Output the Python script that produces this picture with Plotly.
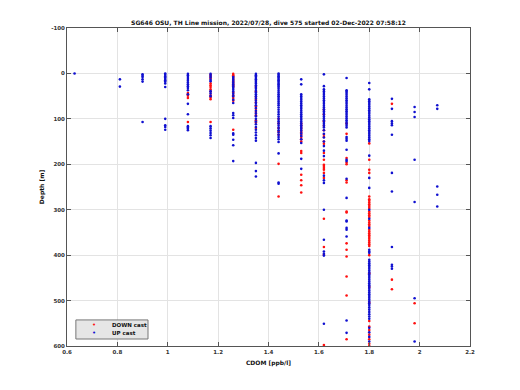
import plotly.graph_objects as go

# CDOM bins (ppb/l) present in the profile
cdom_bins = [0.63, 0.81, 0.90, 0.99, 1.08, 1.17, 1.26, 1.35, 1.44, 1.53, 1.62, 1.71, 1.80, 1.89, 1.98, 2.07]

# UP cast depths (m) per CDOM bin
up_depths = {
    0.63: [0],
    0.81: [13, 29],
    0.90: [2, 5, 8, 13, 18, 107],
    0.99: [0, 3, 6, 9, 12, 15, 18, 22, 30, 100, 114, 118, 124],
    1.08: [1, 4, 8, 12, 16, 20, 24, 28, 32, 37, 46, 67, 90, 116, 119, 122, 125],
    1.17: [1, 5, 9, 14, 17, 39, 44, 50, 116, 121, 126, 131, 136, 142],
    1.26: [8, 12, 16, 20, 24, 28, 32, 36, 40, 45, 50, 58, 65, 87, 92, 98, 132, 135, 146, 158, 193],
    1.35: [1, 4, 7, 10, 13, 16, 19, 22, 26, 30, 34, 38, 42, 46, 50, 55, 60, 65, 70, 76, 82, 88,
           94, 100, 106, 112, 118, 124, 130, 136, 142, 148, 197, 215, 227],
    1.44: [0, 3, 6, 9, 12, 15, 18, 21, 24, 27, 30, 34, 38, 42, 46, 50, 54, 58, 62, 66, 70, 75, 80,
           85, 90, 95, 100, 105, 110, 115, 120, 125, 130, 135, 140, 145, 151, 176, 240, 243],
    1.53: [13, 24, 46, 50, 54, 58, 62, 66, 70, 74, 78, 82, 86, 90, 94, 98, 102, 106, 110, 114, 118,
           122, 126, 132, 138, 145, 153, 188, 210],
    1.62: [2, 28, 35, 39, 43, 47, 51, 55, 59, 63, 67, 71, 75, 79, 83, 87, 91, 95, 99, 103, 107, 111,
           115, 119, 125, 133, 141, 150, 160, 170, 182, 225, 235, 241, 300, 366, 392, 397, 401, 551],
    1.71: [10, 37, 40, 43, 47, 51, 55, 59, 63, 67, 71, 75, 79, 83, 87, 91, 95, 99, 103, 107, 111,
           115, 119, 140, 144, 148, 168, 190, 193, 232, 274, 324, 326, 340, 344, 359, 544, 571],
    1.80: [21, 35, 57, 61, 65, 69, 73, 77, 81, 85, 89, 93, 97, 101, 105, 109, 113, 117, 121, 125,
           129, 133, 137, 141, 145, 149, 181, 230, 252, 300, 320, 340, 388, 392, 395, 410, 414, 418,
           422, 426, 430, 434, 438, 442, 446, 450, 454, 458, 462, 466, 470, 474, 478, 482, 486, 490,
           494, 498, 502, 506, 510, 515, 520, 525, 530, 535, 540, 560, 570, 580, 590],
    1.89: [56, 78, 105, 110, 114, 135, 219, 260, 382, 421, 425, 430],
    1.98: [74, 85, 96, 190, 283, 495, 590],
    2.07: [70, 78, 249, 267, 293],
}

# DOWN cast depths (m) per CDOM bin
down_depths = {
    1.08: [43, 46, 49, 54, 107],
    1.17: [3, 7, 11, 22, 26, 30, 35, 40, 48, 53, 57, 107],
    1.26: [1, 4, 7, 10, 14, 18, 22, 26, 30, 42, 48, 54, 60, 124],
    1.35: [30, 40, 52, 58, 64, 72, 78, 85, 92, 103, 108, 120],
    1.44: [100, 110, 120, 128, 135, 199, 271],
    1.53: [110, 115, 120, 126, 130, 135, 140, 145, 150, 171, 175, 223, 235, 246, 262],
    1.62: [80, 90, 105, 115, 125, 135, 140, 150, 155, 175, 190, 201, 204, 208, 212, 219, 230,
           320, 382, 399, 598],
    1.71: [110, 133, 186, 196, 200, 235, 240, 304, 306, 374, 388, 403, 447, 489, 585],
    1.80: [154, 190, 212, 219, 271, 277, 280, 284, 288, 292, 296, 304, 308, 312, 316, 324, 328,
           332, 336, 344, 348, 352, 356, 360, 364, 368, 372, 376, 380, 400, 440, 470, 505, 545,
           557, 565, 575, 585, 595, 600],
    1.89: [67, 454, 475],
    1.98: [506, 550],
}

x_ticks = [0.6, 0.8, 1.0, 1.2, 1.4, 1.6, 1.8, 2.0, 2.2]
x_ticktext = ["0.6", "0.8", "1", "1.2", "1.4", "1.6", "1.8", "2", "2.2"]
y_ticks = [-100, 0, 100, 200, 300, 400, 500, 600]
y_ticktext = ["-100", "0", "100", "200", "300", "400", "500", "600"]

series_names = ["DOWN cast", "UP cast"]
series_colors = ["#ff1010", "#1010d0"]

title_text = "SG646 OSU, TH Line mission, 2022/07/28, dive 575 started 02-Dec-2022 07:58:12"


def flatten(d):
    xs, ys = [], []
    for c in cdom_bins:
        for v in d.get(c, []):
            xs.append(c)
            ys.append(v)
    return xs, ys


dx, dy = flatten(down_depths)
ux, uy = flatten(up_depths)

FONT = "DejaVu Sans"

fig = go.Figure()
fig.add_trace(go.Scatter(x=dx, y=dy, mode="markers", name=series_names[0], showlegend=False,
                         marker=dict(color=series_colors[0], size=2.6, line=dict(width=0))))
fig.add_trace(go.Scatter(x=ux, y=uy, mode="markers", name=series_names[1], showlegend=False,
                         marker=dict(color=series_colors[1], size=2.6, line=dict(width=0))))

axis_common = dict(
    showline=True, mirror="ticks", linecolor="#555555", linewidth=1,
    ticks="inside", ticklen=4, tickcolor="#555555",
    showgrid=True, gridcolor="#e3e3e3", gridwidth=1, zeroline=False,
    automargin=False,
    tickfont=dict(family=FONT, size=5.5, color="#333333", weight="bold"),
)

# compact legend box (MATLAB style), drawn as layout decoration
legend_shapes = [dict(type="rect", xref="paper", yref="paper", x0=0.022, x1=0.201, y0=0.022, y1=0.082,
                      fillcolor="#e6e6e6", line=dict(color="#777777", width=1), layer="above")]
legend_ann = []
for i, (nm, col) in enumerate(zip(series_names, series_colors)):
    yy = 0.067 - i * 0.027
    legend_ann.append(dict(xref="paper", yref="paper", x=0.067, y=yy, text="•", showarrow=False,
                           font=dict(family=FONT, size=7, color=col), xanchor="center", yanchor="middle"))
    legend_ann.append(dict(xref="paper", yref="paper", x=0.106, y=yy, text=nm, showarrow=False,
                           font=dict(family=FONT, size=5.5, color="#111111", weight="bold"),
                           xanchor="left", yanchor="middle"))

fig.update_layout(
    width=520, height=390,
    margin=dict(l=67, r=50, t=28, b=44, autoexpand=False),
    paper_bgcolor="white", plot_bgcolor="white",
    title=dict(text=title_text, x=0.5, xref="paper", y=1 - 23 / 390, yref="container",
               yanchor="middle", xanchor="center",
               font=dict(family=FONT, size=6, color="#111111", weight="bold")),
    xaxis=dict(range=[0.6, 2.2], tickvals=x_ticks, ticktext=x_ticktext,
               title=dict(text="CDOM [ppb/l]", standoff=7,
                          font=dict(family=FONT, size=6, color="#111111", weight="bold")),
               **axis_common),
    yaxis=dict(range=[600, -100], tickvals=y_ticks, ticktext=y_ticktext,
               title=dict(text="Depth [m]", standoff=6,
                          font=dict(family=FONT, size=6, color="#111111", weight="bold")),
               **axis_common),
    shapes=legend_shapes,
    annotations=legend_ann,
    showlegend=False,
)

fig.write_html("out.html", post_script="document.body.style.margin='0px';",
               config={"displayModeBar": False})
